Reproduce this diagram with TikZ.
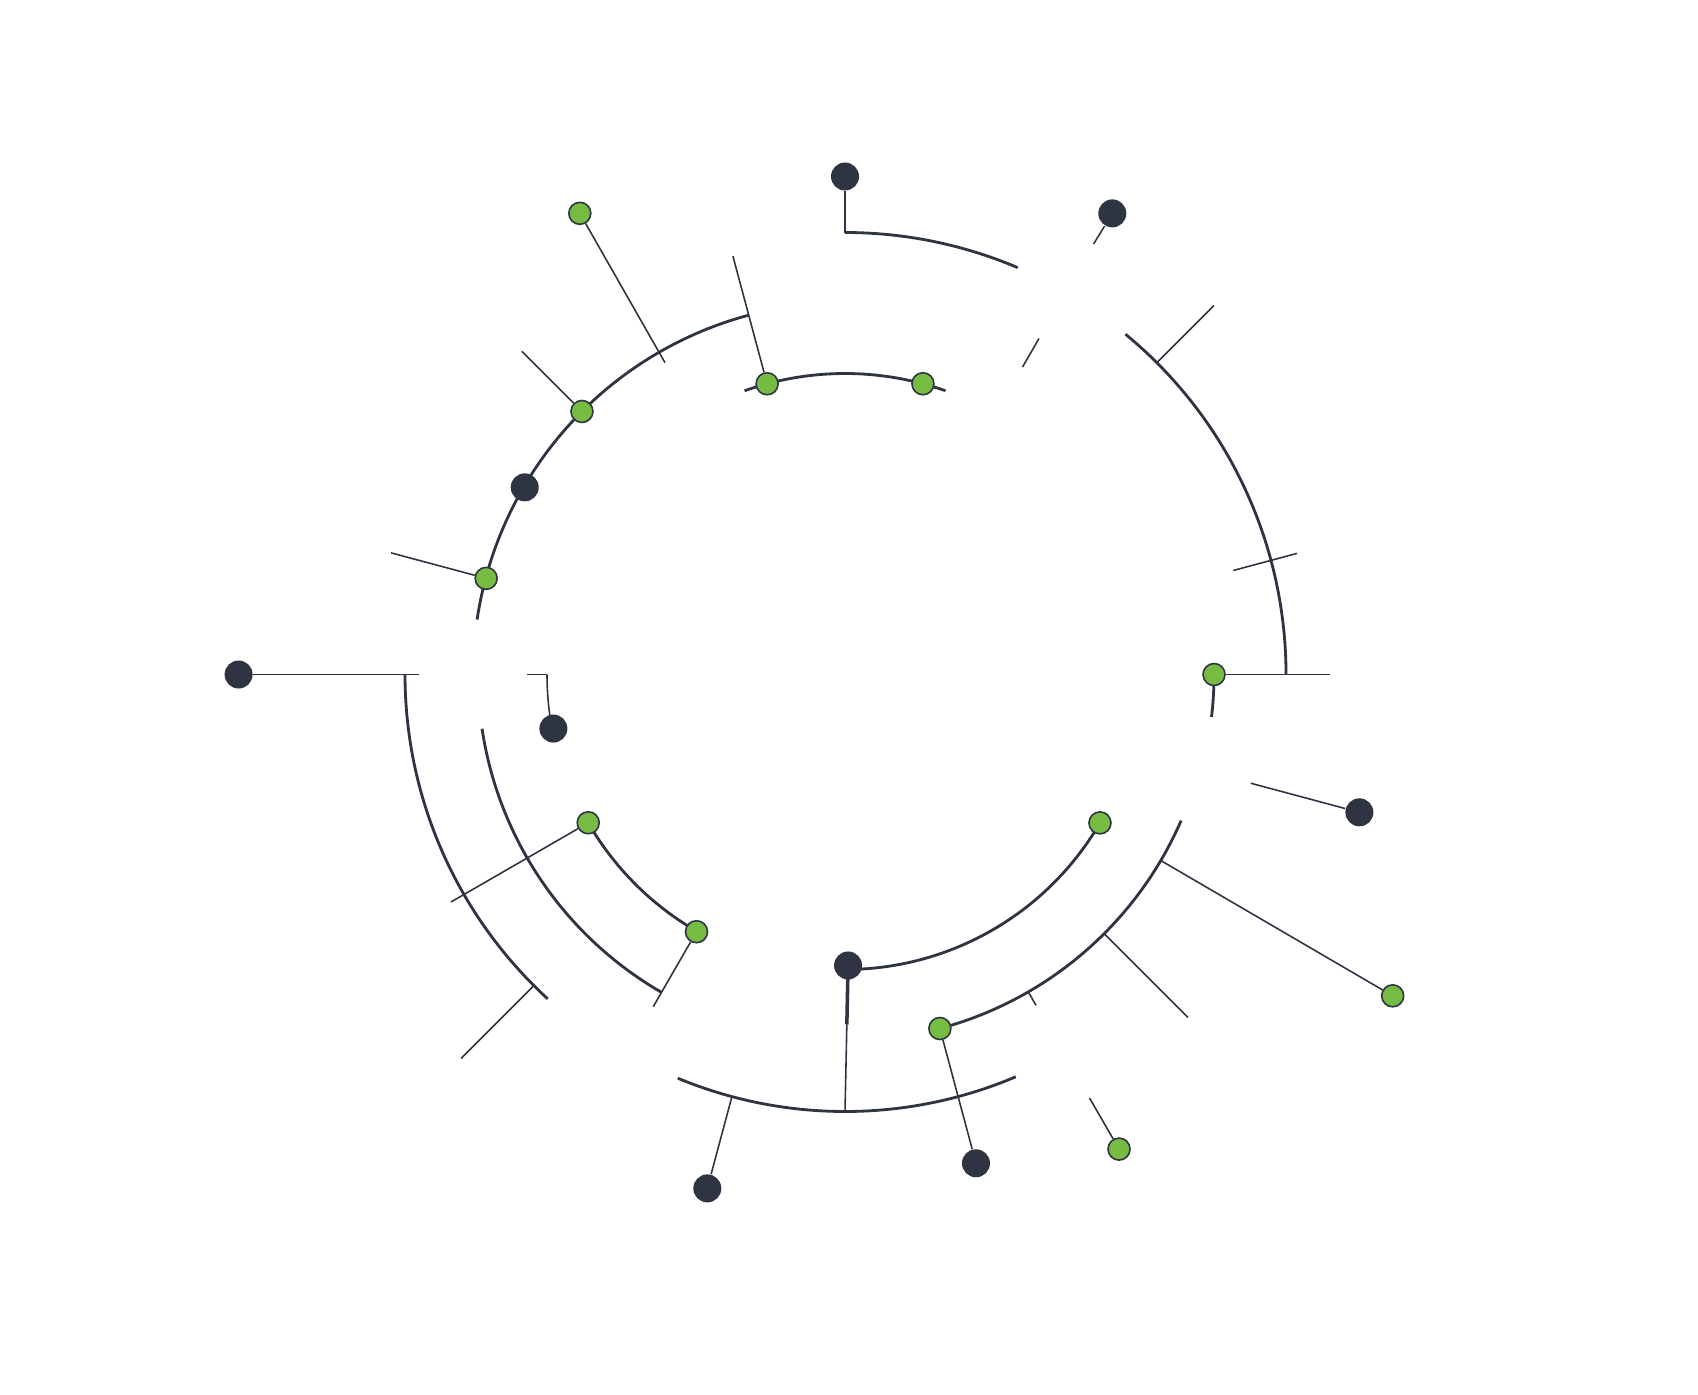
\documentclass[tikz,border=0pt]{standalone}
\definecolor{ink}{RGB}{47,52,66}
\definecolor{leaf}{RGB}{118,188,67}
\pgfdeclarelayer{bg}
\pgfdeclarelayer{edges}
\pgfsetlayers{bg,edges,main}
\begin{document}
\begin{tikzpicture}[x=0.01cm,y=-0.01cm,
  branch/.style={draw=ink,line width=0.8pt},
  twig/.style={draw=ink,line width=0.45pt},
  darkdot/.style={circle,fill=ink,inner sep=0pt,minimum size=0.28cm},
  greendot/.style={circle,fill=leaf,draw=ink,line width=0.45pt,inner sep=0pt,minimum size=0.22cm}]
\begin{pgfonlayer}{bg}
\fill[white] (0,0) rectangle (1698,1394);
\end{pgfonlayer}
\useasboundingbox (0,0) rectangle (1698,1394);
\begin{scope}[shift={(845,674.5)}]
% dark leaves
\node[darkdot] (D1) at (-90:498) {};
\node[darkdot] (D2) at (-59.9:533) {};
\node[darkdot] (D3) at (15:532.5) {};
\node[darkdot] (D4) at (75:506) {};
\node[darkdot] (D5) at (105:532) {};
\node[darkdot] (D6) at (89.4:291) {};
\node[darkdot] (D7) at (169.5:296.6) {};
\node[darkdot] (D8) at (180:606.4) {};
\node[darkdot] (D9) at (-149.7:371) {};
% green leaves
\node[greendot] (G1) at (-119.9:532) {};
\node[greendot] (G2) at (-135:372) {};
\node[greendot] (G3) at (-165:371.5) {};
\node[greendot] (G4) at (-105:301) {};
\node[greendot] (G5) at (-75:301) {};
\node[greendot] (G6) at (0:369) {};
\node[greendot] (G7) at (30.2:295) {};
\node[greendot] (G8) at (75:366.5) {};
\node[greendot] (G9) at (30.4:635) {};
\node[greendot] (G10) at (60:548) {};
\node[greendot] (G11) at (150:296.5) {};
\node[greendot] (G12) at (120:297) {};
% branch points
\coordinate (c1) at (-90:442);
\coordinate (c2) at (-60:497);
\coordinate (c3a) at (-60:355);
\coordinate (c3b) at (-60:388);
\coordinate (c4a) at (-45:442);
\coordinate (c4b) at (-45:522);
\coordinate (c5a) at (-15:402);
\coordinate (c5b) at (-15:468);
\coordinate (c6) at (0:485);
\coordinate (c7) at (15:420);
\coordinate (c8) at (30.5:367);
\coordinate (c9a) at (45:367);
\coordinate (c9b) at (45:485);
\coordinate (c10a) at (60:367);
\coordinate (c10b) at (60:382);
\coordinate (c10c) at (60:489);
\coordinate (c12a) at (89.7:350);
\coordinate (c12b) at (90:437);
\coordinate (c13) at (105:437);
\coordinate (c14) at (120:383.5);
\coordinate (c15a) at (135:440);
\coordinate (c15b) at (135:543);
\coordinate (c16) at (150:455);
\coordinate (c17a) at (180:318);
\coordinate (c17b) at (180:298);
\coordinate (c18) at (180:426);
\coordinate (c19) at (-165:470);
\coordinate (c20) at (-135:457);
\coordinate (c21) at (-120:360);
\coordinate (c22) at (-105:433);
\begin{pgfonlayer}{edges}
% arcs
\draw[branch] (c1) arc[start angle=-90,end angle=-67,radius=442];
\draw[branch] (-50.5:441) arc[start angle=-50.5,end angle=0,radius=441];
\draw[branch] (132.5:440) arc[start angle=132.5,end angle=180,radius=440];
\draw[branch] (67:437) arc[start angle=67,end angle=112.5,radius=437];
\draw[branch] (-171.5:372) arc[start angle=-171.5,end angle=-105,radius=372];
\draw[branch] (-109.5:301) arc[start angle=-109.5,end angle=-70.5,radius=301];
\draw[branch] (120:367) arc[start angle=120,end angle=171.5,radius=367];
\draw[branch] (120:296.5) arc[start angle=120,end angle=150,radius=296.5];
\draw[branch] (30.2:295) arc[start angle=30.2,end angle=89.4,radius=295];
\draw[branch] (23.5:366.5) arc[start angle=23.5,end angle=75,radius=366.5];
\draw[branch] (0:369) arc[start angle=0,end angle=6.6,radius=369];
\draw[twig] (c17b) arc[start angle=180,end angle=169.5,radius=298];
% twigs
\draw[twig] (D1) -- (c1);
\draw[twig] (D2) -- (c2);
\draw[twig] (c3a) -- (c3b);
\draw[twig] (c4a) -- (c4b);
\draw[twig] (c5a) -- (c5b);
\draw[twig] (G6) -- (c6);
\draw[twig] (c7) -- (D3);
\draw[twig] (c8) -- (G9);
\draw[twig] (c9a) -- (c9b);
\draw[twig] (c10a) -- (c10b);
\draw[twig] (c10c) -- (G10);
\draw[twig] (G8) -- (D4);
\draw[draw=ink,line width=1pt] (D6.center) -- (c12a);
\draw[twig] (c12a) -- (c12b);
\draw[twig] (c13) -- (D5);
\draw[twig] (G12) -- (c14);
\draw[twig] (c15a) -- (c15b);
\draw[twig] (G11) -- (c16);
\draw[twig] (c17a) -- (c17b);
\draw[twig] (D8) -- (c18);
\draw[twig] (G3) -- (c19);
\draw[twig] (G2) -- (c20);
\draw[twig] (G1) -- (c21);
\draw[twig] (G4) -- (c22);
\end{pgfonlayer}
\end{scope}
\end{tikzpicture}
\end{document}
